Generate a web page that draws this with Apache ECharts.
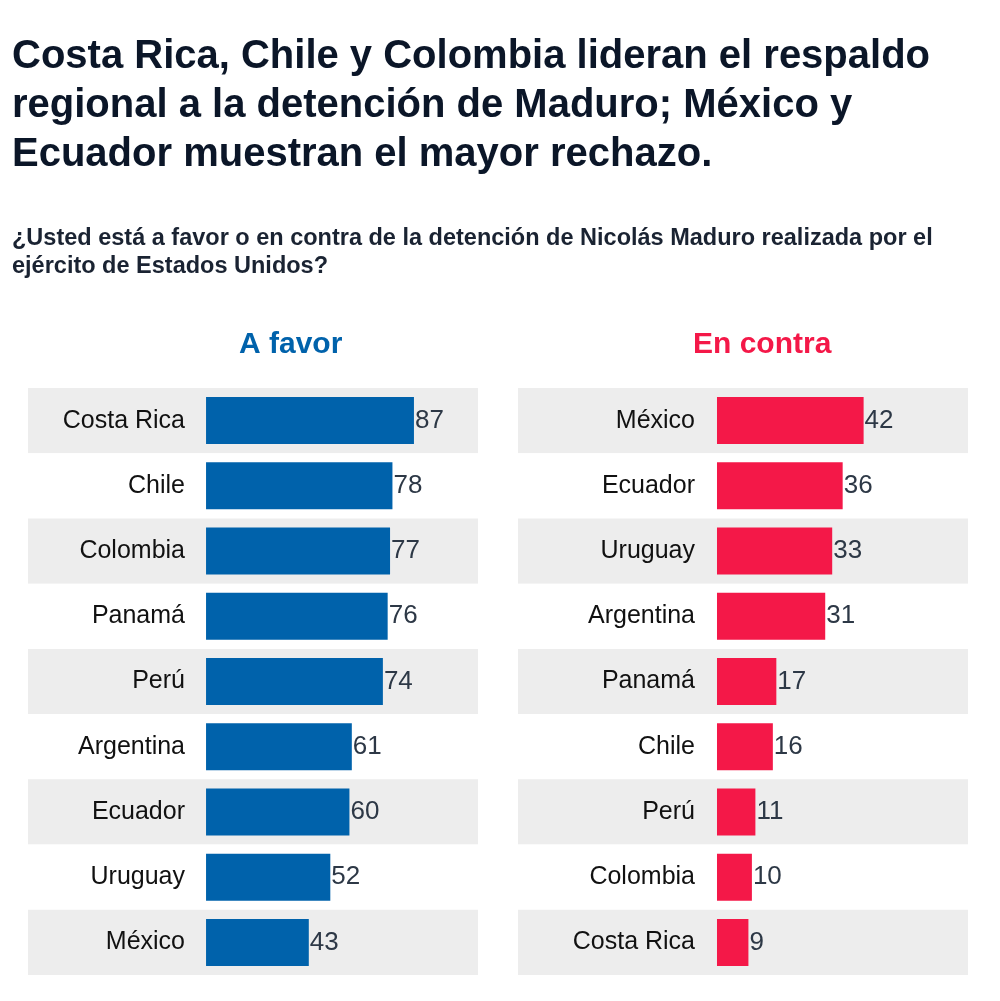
<!DOCTYPE html>
<html><head><meta charset="utf-8">
<script src="https://cdn.jsdelivr.net/npm/echarts@6/dist/echarts.min.js"></script>
<style>html,body{margin:0;padding:0;background:#fff}#c{width:1000px;height:1001px}</style>
</head><body><div id="c"></div>
<script>
const titleText = 'Costa Rica, Chile y Colombia lideran el respaldo\nregional a la detención de Maduro; México y\nEcuador muestran el mayor rechazo.';
const subtitleText = '¿Usted está a favor o en contra de la detención de Nicolás Maduro realizada por el\nejército de Estados Unidos?';
const favorHeader = 'A favor';
const contraHeader = 'En contra';
const favorCountries = ['Costa Rica','Chile','Colombia','Panamá','Perú','Argentina','Ecuador','Uruguay','México'];
const favorValues = [87,78,77,76,74,61,60,52,43];
const contraCountries = ['México','Ecuador','Uruguay','Argentina','Panamá','Chile','Perú','Colombia','Costa Rica'];
const contraValues = [42,36,33,31,17,16,11,10,9];

const FONT = '"Liberation Sans", Arial, sans-serif';
const BLUE = '#0062AB';
const RED = '#F41848';

function yAx(idx, data, margin){
  return {
    type:'category', gridIndex: idx, data: data, inverse: true,
    axisLine:{show:false, onZero:false}, axisTick:{show:false},
    axisLabel:{margin: margin, fontSize: 25, color:'#111', fontFamily: FONT},
    splitArea:{show:true, areaStyle:{color:['#ededed','#ffffff']}},
    splitLine:{show:false}
  };
}
function xAx(idx, min, max){
  return {type:'value', gridIndex: idx, min: min, max: max, show:false};
}
function barS(idx, vals, color){
  return {
    type:'bar', xAxisIndex: idx, yAxisIndex: idx, data: vals, barWidth: 47,
    itemStyle:{color: color}, silent: true,
    label:{show:true, position:'right', distance: 1, fontSize: 26, color:'#2d3846', fontFamily: FONT}
  };
}

const chart = echarts.init(document.getElementById('c'), null, {renderer:'canvas'});
chart.setOption({
  animation:false,
  textStyle:{fontFamily: FONT},
  title:[
    {text: titleText, left: 12, top: 32, padding: 0,
     textStyle:{fontSize: 40, fontWeight:'bold', color:'#0b1628', lineHeight: 49, fontFamily: FONT}},
    {text: subtitleText, left: 12, top: 225, padding: 0,
     textStyle:{fontSize: 23.5, fontWeight:'bold', color:'#1a2332', lineHeight: 28, fontFamily: FONT}}
  ],
  graphic:[
    {type:'text', left: 291 - 52, top: 330, style:{text: favorHeader, fontSize: 30, fontWeight:'bold', fill: BLUE, fontFamily: FONT}},
    {type:'text', left: 762 - 69, top: 330, style:{text: contraHeader, fontSize: 30, fontWeight:'bold', fill: RED, fontFamily: FONT}}
  ],
  grid:[
    {left: 28, width: 450, top: 388, height: 587},
    {left: 518, width: 450, top: 388, height: 587}
  ],
  xAxis:[xAx(0, -74.5, 113.8), xAx(1, -57, 71.9)],
  yAxis:[yAx(0, favorCountries, -157), yAx(1, contraCountries, -177)],
  series:[barS(0, favorValues, BLUE), barS(1, contraValues, RED)]
});
</script></body></html>
